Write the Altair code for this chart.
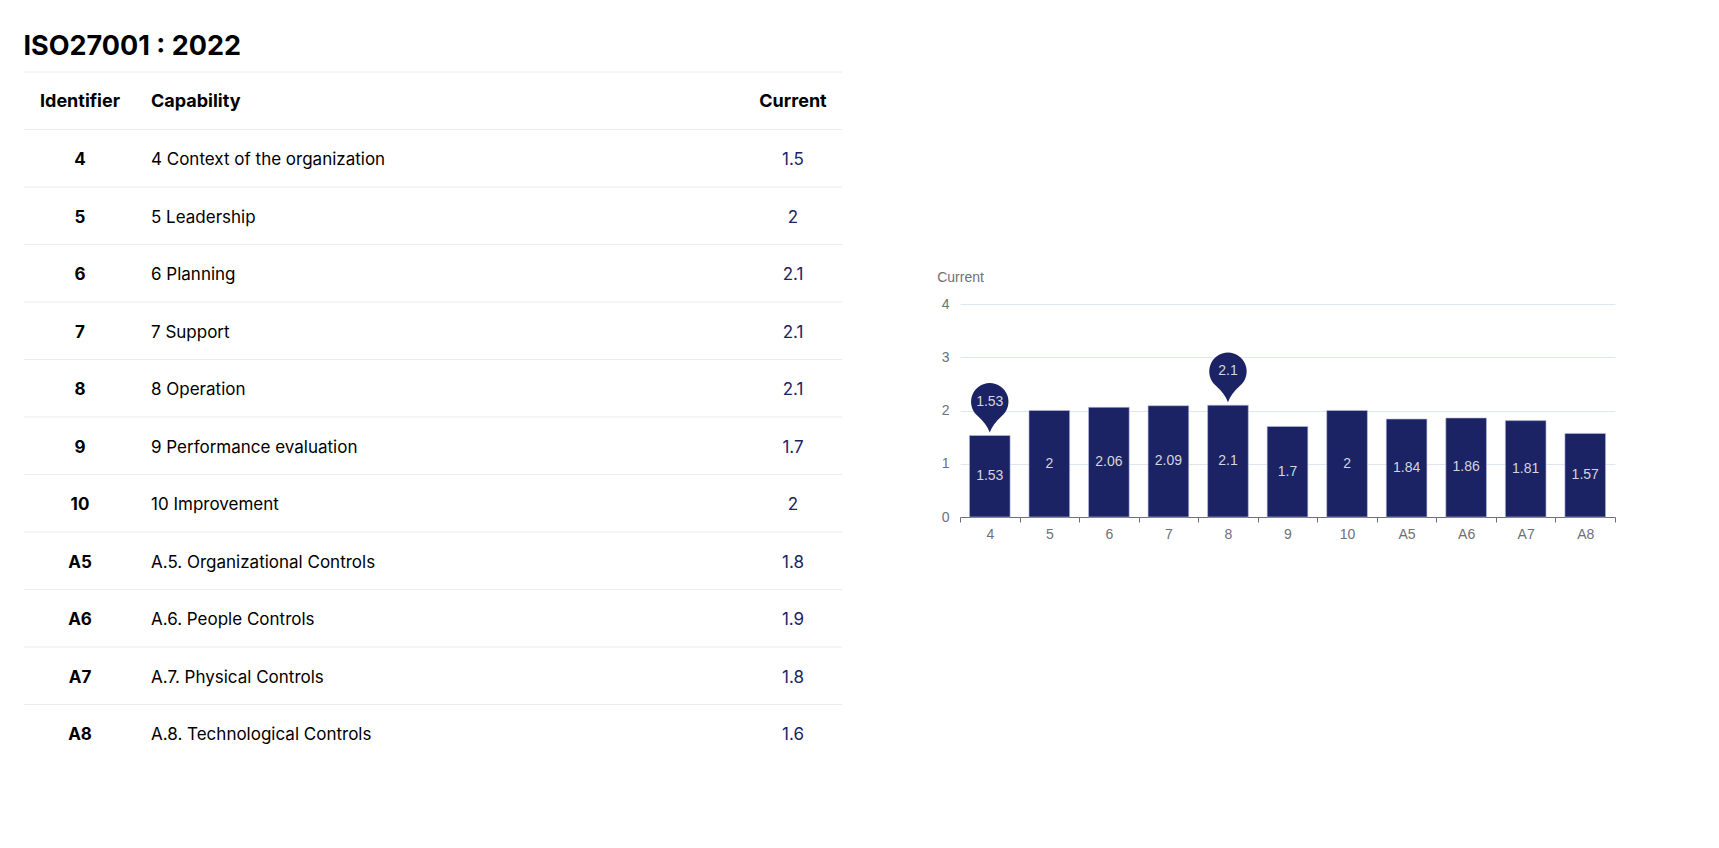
import altair as alt
import pandas as pd

# ---- data -------------------------------------------------------------
title_text = "ISO27001 : 2022"
header = ["Identifier", "Capability", "Current"]
identifiers = ["4", "5", "6", "7", "8", "9", "10", "A5", "A6", "A7", "A8"]
capabilities = [
    "4 Context of the organization",
    "5 Leadership",
    "6 Planning",
    "7 Support",
    "8 Operation",
    "9 Performance evaluation",
    "10 Improvement",
    "A.5. Organizational Controls",
    "A.6. People Controls",
    "A.7. Physical Controls",
    "A.8. Technological Controls",
]
current = [1.53, 2, 2.06, 2.09, 2.1, 1.7, 2, 1.84, 1.86, 1.81, 1.57]

# ---- styling ----------------------------------------------------------
NAVY = "#1b2364"
TABLE_FONT = "Inter"
CHART_FONT = "Liberation Sans"
AXIS_GREY = "#6E7079"
GRID = "#E0E6F1"
LABEL_LIGHT = "#d3d5df"

TABLE_W = 818
ROW_H = 57.5
N_ROWS = len(identifiers) + 1
TABLE_H = ROW_H * N_ROWS

BAR_W = 655
BAR_H = 213

# ---- table ------------------------------------------------------------
body = pd.DataFrame({
    "row": list(range(1, N_ROWS)),
    "identifier": identifiers,
    "capability": capabilities,
    "current": current,
})
head = pd.DataFrame({"row": [0], "c0": [header[0]], "c1": [header[1]], "c2": [header[2]]})
lines = pd.DataFrame({"row": list(range(N_ROWS))})

row_scale = alt.Scale(type="band", domain=list(range(N_ROWS)), paddingInner=0, paddingOuter=0)


def row_y(band):
    return alt.Y("row:O", scale=row_scale, axis=None, bandPosition=band)


rules = alt.Chart(lines).mark_rule(color="#ececec", strokeWidth=1).encode(
    y=row_y(0), x=alt.value(0), x2=alt.value(TABLE_W)
)

body_text = dict(font=TABLE_FONT, fontSize=17, baseline="middle", dy=2)
head_text = dict(font=TABLE_FONT, fontSize=18, baseline="middle", dy=1, fontWeight="bold", color="#000")

head_id = alt.Chart(head).mark_text(align="center", **head_text).encode(
    y=row_y(0.5), x=alt.value(56), text="c0:N")
head_cap = alt.Chart(head).mark_text(align="left", **head_text).encode(
    y=row_y(0.5), x=alt.value(127), text="c1:N")
head_cur = alt.Chart(head).mark_text(align="center", **head_text).encode(
    y=row_y(0.5), x=alt.value(769), text="c2:N")

col_id = alt.Chart(body).mark_text(align="center", fontWeight="bold", color="#000", **body_text).encode(
    y=row_y(0.5), x=alt.value(56), text="identifier:N")
col_cap = alt.Chart(body).mark_text(align="left", color="#000", **body_text).encode(
    y=row_y(0.5), x=alt.value(127), text="capability:N")
col_cur = alt.Chart(body).mark_text(align="center", color=NAVY, **body_text).encode(
    y=row_y(0.5), x=alt.value(769), text=alt.Text("current:Q", format=".1~f"))

table = alt.layer(rules, head_id, head_cap, head_cur, col_id, col_cap, col_cur).properties(
    width=TABLE_W, height=TABLE_H
)

# ---- bar chart --------------------------------------------------------
bars_df = pd.DataFrame({"identifier": identifiers, "current": current})

x_enc = alt.X(
    "identifier:N",
    sort=identifiers,
    scale=alt.Scale(paddingInner=0, paddingOuter=0),
    axis=alt.Axis(
        title=None, labelAngle=0, tickBand="extent", tickSize=5,
        domainColor=AXIS_GREY, tickColor=AXIS_GREY, labelColor=AXIS_GREY,
        labelFont=CHART_FONT, labelFontSize=14, labelPadding=5, grid=False,
    ),
)

y_axis = alt.Axis(
    values=[0, 1, 2, 3, 4], title="Current", titleAngle=0, titleX=0, titleY=-26.6,
    titleAlign="center", titleBaseline="middle", titleFontWeight="normal",
    titleColor=AXIS_GREY, titleFont=CHART_FONT, titleFontSize=14,
    domain=False, ticks=False, tickSize=0, labelPadding=11,
    labelColor=AXIS_GREY, labelFont=CHART_FONT, labelFontSize=14,
    grid=True, gridColor=GRID, gridWidth=1,
)
y_scale = alt.Scale(domain=[0, 4], nice=False)


def y_enc(field):
    return alt.Y(field, scale=y_scale, axis=y_axis)


base = alt.Chart(bars_df).encode(x=x_enc)

bars = base.mark_bar(
    width=alt.RelativeBandSize(0.683), color=NAVY,
    stroke="#b9bfe0", strokeWidth=1, strokeOpacity=0.6,
).encode(y=y_enc("current:Q"))

inside = base.transform_calculate(mid="datum.current / 2").mark_text(
    font=CHART_FONT, fontSize=14, color=LABEL_LIGHT, baseline="middle"
).encode(y=y_enc("mid:Q"), text=alt.Text("current:Q", format=".3~g"))

# pin markers over the highest and lowest bars
PIN = ("M0,-0.163 Q-0.15,-0.6 -0.643,-1.044 A1,1 0 1 1 0.643,-1.044 "
       "Q0.15,-0.6 0,-0.163 Z")

extremes = base.transform_joinaggregate(
    vmax="max(current)", vmin="min(current)"
).transform_filter("datum.current == datum.vmax || datum.current == datum.vmin")

pins = extremes.mark_point(
    shape=PIN, size=1400, filled=True, color=NAVY, opacity=1, strokeWidth=0
).encode(y=y_enc("current:Q"))

pin_text = extremes.mark_text(
    font=CHART_FONT, fontSize=14, color=LABEL_LIGHT, baseline="middle", dy=-33.8
).encode(y=y_enc("current:Q"), text=alt.Text("current:Q", format=".3~g"))

bar_chart = alt.layer(bars, inside, pins, pin_text).properties(width=BAR_W, height=BAR_H)

# empty block that pushes the bar chart down beside the table
spacer = alt.Chart(pd.DataFrame({"t": [""]})).mark_text().encode(
    text="t:N"
).properties(width=1, height=198)

right = alt.vconcat(spacer, bar_chart, spacing=0)

chart = alt.hconcat(table, right, spacing=93).properties(
    title=alt.TitleParams(
        title_text, anchor="start", font=TABLE_FONT, fontSize=27,
        fontWeight="bold", color="#000", offset=11,
    ),
    padding={"left": 23, "top": 32, "right": 0, "bottom": 0},
    background="white",
).configure_view(strokeWidth=0)

chart.save("out.html", embed_options={"renderer": "svg", "actions": False})
